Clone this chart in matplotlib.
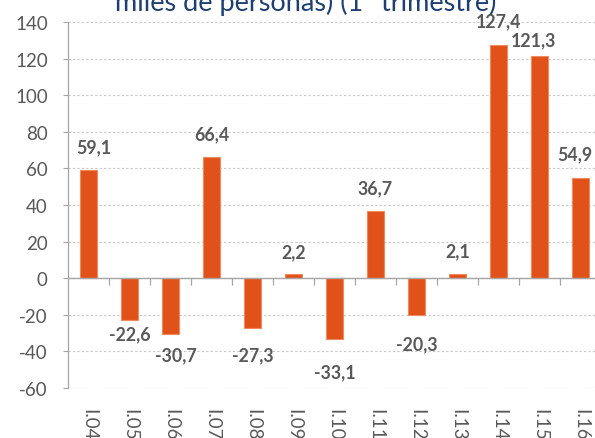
import matplotlib
matplotlib.use("Agg")
import matplotlib.pyplot as plt
import matplotlib.transforms as mtransforms

plt.rcParams['font.family'] = ['Lato', 'DejaVu Sans']
plt.rcParams['axes.unicode_minus'] = False

# data
quarters = ['I.04', 'I.05', 'I.06', 'I.07', 'I.08', 'I.09', 'I.10',
            'I.11', 'I.12', 'I.13', 'I.14', 'I.15', 'I.16']
values = [59.1, -22.6, -30.7, 66.4, -27.3, 2.2, -33.1,
          36.7, -20.3, 2.1, 127.4, 121.3, 54.9]
title = 'miles de personas) (1º trimestre)'

# label placement tweaks (pixels): gap from bar end, horizontal shift
label_gap = [18, 6, 12, 17, 18, 17, 24, 18, 20, 18, 19, 11, 18]
label_dx = [5, 0, 5, 0, 0, 0, 0, 0, 0, 0, 0, -6, -6]

bar_color = '#E0521A'
text_gray = '#595959'
px = 0.72  # points per pixel at dpi 100

fig = plt.figure(figsize=(5.95, 4.39), dpi=100)
ax = fig.add_axes([68 / 595, 50 / 439, (601 - 68) / 595, 366 / 439])

x = list(range(len(values)))
ax.bar(x, values, width=0.41, color=bar_color, edgecolor='#F08A5D',
       linewidth=0.8, zorder=3)

ax.set_xlim(-0.5, len(values) - 0.5)
ax.set_ylim(-60, 140)
ax.set_yticks(range(-60, 141, 20))
ax.tick_params(axis='y', direction='out', length=3.6, width=0.8,
               color='#A6A6A6', labelsize=13.5, labelcolor=text_gray, pad=11)
ax.yaxis.grid(True, color='#C8C8C8', linestyle=(0, (2, 2)), linewidth=0.8,
              zorder=0)
ax.set_axisbelow(True)

for s in ['top', 'right']:
    ax.spines[s].set_visible(False)
ax.spines['left'].set_color('#A6A6A6')
ax.spines['left'].set_linewidth(0.9)
ax.spines['bottom'].set_position(('data', 0))
ax.spines['bottom'].set_color('#A6A6A6')
ax.spines['bottom'].set_linewidth(1.0)
ax.spines['bottom'].set_zorder(4)

# ticks at category boundaries on the zero line
ax.set_xticks([i + 0.5 for i in x[:-1]])
ax.set_xticklabels([])
ax.tick_params(axis='x', direction='out', length=4.8, width=0.9,
               color='#A6A6A6')

# category labels below the plot area
trans = mtransforms.blended_transform_factory(ax.transData, ax.transAxes)
for i, q in enumerate(quarters):
    ax.annotate(q, xy=(i, 0), xycoords=trans, xytext=(0, -20 * px),
                textcoords='offset points', rotation=-90, ha='center',
                va='top', fontsize=13.5, color=text_gray, annotation_clip=False)

# value labels
for i, v in enumerate(values):
    lab = f'{v:.1f}'.replace('.', ',')
    if v >= 0:
        ax.annotate(lab, xy=(i, v), xytext=(label_dx[i] * px, label_gap[i] * px),
                    textcoords='offset points', ha='center', va='baseline',
                    fontsize=12.8, fontweight='bold', color=text_gray)
    else:
        ax.annotate(lab, xy=(i, v), xytext=(label_dx[i] * px, -label_gap[i] * px),
                    textcoords='offset points', ha='center', va='top',
                    fontsize=12.8, fontweight='bold', color=text_gray)

fig.text(305.5 / 595, 1 - 11.5 / 439, title, ha='center', va='baseline',
         fontsize=19.5, color='#1F3F73')

fig.savefig('out.png', dpi=100)
